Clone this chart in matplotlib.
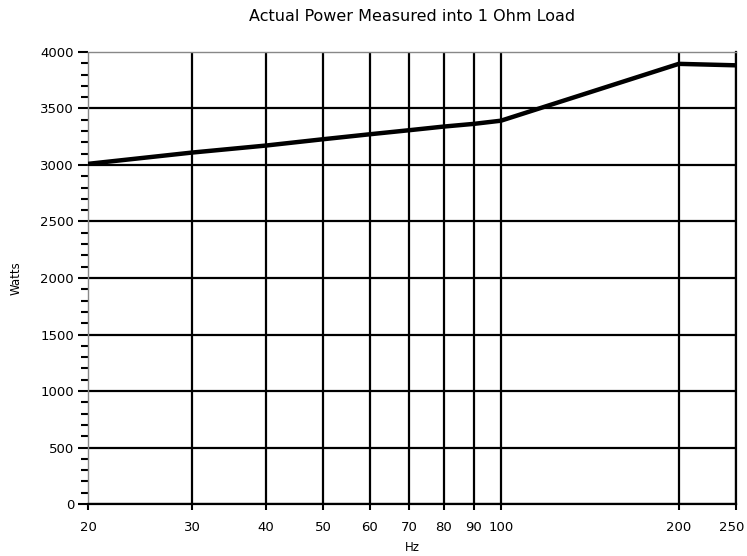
import matplotlib
matplotlib.use('Agg')

import matplotlib.pyplot as plt
import matplotlib.transforms as mtransforms
from matplotlib.ticker import FixedLocator, NullFormatter, MultipleLocator

# measured power vs frequency
freqs = [20, 30, 40, 50, 60, 70, 80, 90, 100, 200, 250]
watts = [3010, 3110, 3172, 3228, 3272, 3308, 3340, 3364, 3392, 3895, 3882]

x_ticks = [20, 30, 40, 50, 60, 70, 80, 90, 100, 200, 250]
y_ticks = [0, 500, 1000, 1500, 2000, 2500, 3000, 3500, 4000]

fig = plt.figure(figsize=(7.47, 5.56), dpi=100)
ax = fig.add_axes([0.1178, 0.0935, 0.8675, 0.813])

ax.set_xscale('log')
ax.set_xlim(20, 250)
ax.set_ylim(0, 4000)

# grid lines drawn by hand so they sit under the data line
for f in x_ticks[1:]:
    ax.axvline(f, color='black', lw=1.6, zorder=1)
for w in y_ticks[:-1]:
    ax.axhline(w, color='black', lw=1.6, zorder=1)

ax.plot(freqs, watts, color='black', lw=3.2, solid_joinstyle='round', zorder=3)

ax.xaxis.set_major_locator(FixedLocator(x_ticks))
ax.xaxis.set_minor_locator(FixedLocator([]))
ax.xaxis.set_minor_formatter(NullFormatter())
ax.set_xticklabels([str(t) for t in x_ticks])
ax.set_yticks(y_ticks)
ax.yaxis.set_minor_locator(MultipleLocator(100))

ax.tick_params(axis='x', which='major', length=4, width=1.5, pad=8, labelsize=9.5)
ax.tick_params(axis='y', which='major', length=7, width=1.5, pad=3, labelsize=9.5)
ax.tick_params(axis='y', which='minor', length=5, width=1.5)

# nudge the last x label so it stays inside the figure
last = ax.get_xticklabels()[-1]
last.set_transform(last.get_transform() +
                   mtransforms.ScaledTranslation(-4 / 100, 0, fig.dpi_scale_trans))

for side in ['top', 'left']:
    ax.spines[side].set_color('#888888')
    ax.spines[side].set_linestyle((0, (1, 1)))
    ax.spines[side].set_linewidth(1.0)
ax.spines['bottom'].set_linewidth(1.6)
ax.spines['right'].set_linewidth(1.6)

ax.set_title('Actual Power Measured into 1 Ohm Load', fontsize=11.5, pad=22)
ax.set_xlabel('Hz', fontsize=8.5, labelpad=5)
ax.set_ylabel('Watts', fontsize=8.5, labelpad=13)

plt.savefig('out.png', dpi=100)
